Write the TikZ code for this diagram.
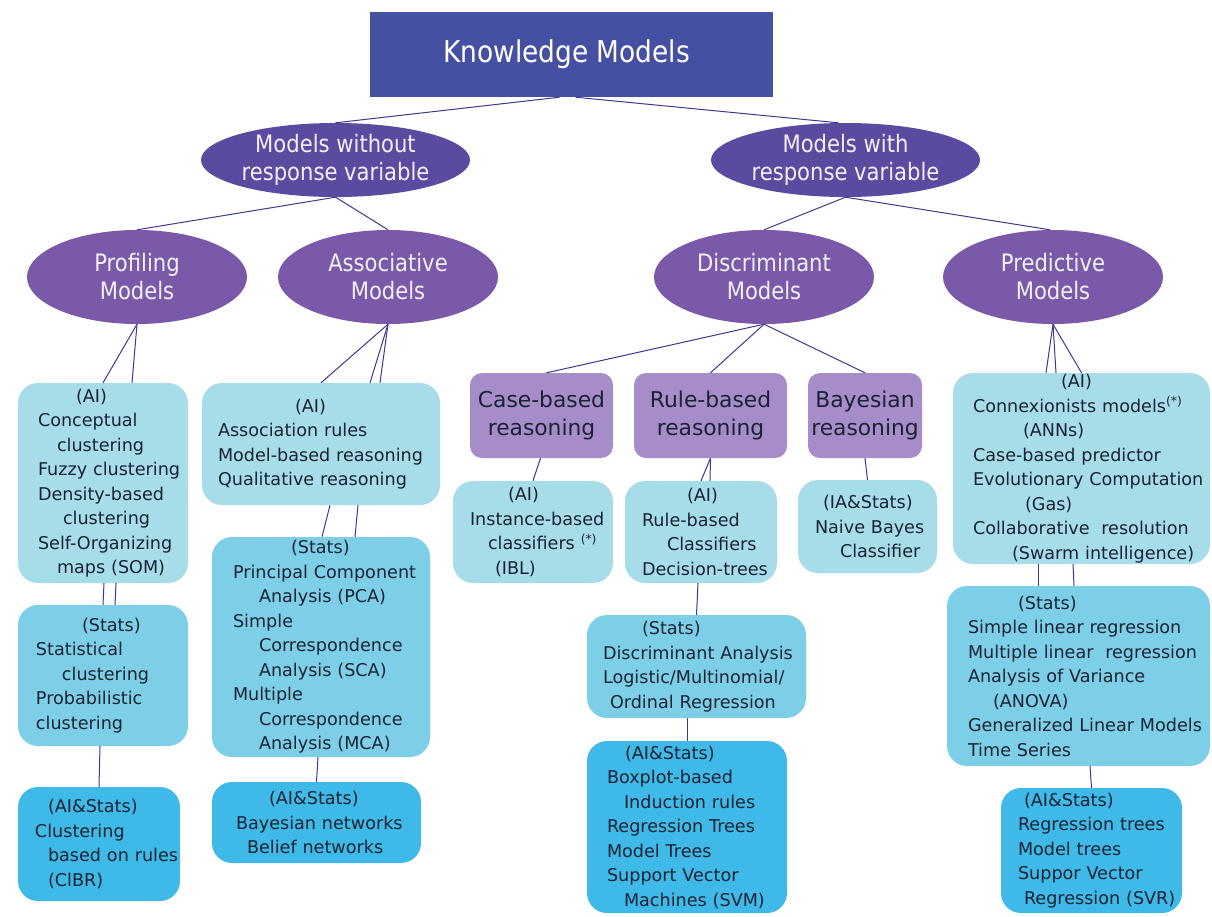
\documentclass[tikz,border=0pt]{standalone}
\usepackage{fontspec}
\setmainfont{DejaVu Sans}
\newfontfamily\condfont[FakeStretch=0.88]{DejaVu Sans}
\usetikzlibrary{shapes.geometric}
\definecolor{titlebg}{HTML}{4650A2}
\definecolor{topell}{HTML}{5A4AA0}
\definecolor{midell}{HTML}{7A5AA8}
\definecolor{reasbg}{HTML}{A68DC9}
\definecolor{aibg}{HTML}{A7DCE9}
\definecolor{statbg}{HTML}{7DCFE7}
\definecolor{aisbg}{HTML}{3FB9E7}
\definecolor{linec}{HTML}{3B3A8E}
\definecolor{boxtext}{HTML}{1A2333}
\definecolor{elltext}{HTML}{F3F1F9}
\newcommand\iline[2]{\hspace*{#1pt}\mbox{#2}}
\begin{document}
\begin{tikzpicture}[x=1pt,y=-1pt,
  titlebox/.style={rectangle, fill=titlebg, draw=none, minimum width=403pt, minimum height=85pt, text=white, font=\condfont\fontsize{30}{34}\selectfont, inner sep=0pt},
  ell/.style={ellipse, draw=none, inner sep=0pt, text=elltext, align=center, font=\condfont\fontsize{24}{28}\selectfont},
  topellipse/.style={ell, fill=topell, minimum width=269pt, minimum height=74pt},
  midellipse/.style={ell, fill=midell, minimum width=220pt, minimum height=94pt},
  reasbox/.style={rectangle, rounded corners=12pt, fill=reasbg, text=boxtext, align=center, font=\fontsize{21.8}{28}\selectfont, minimum height=85pt, inner sep=0pt},
  infobox/.style={rectangle, rounded corners=20pt, text=boxtext, align=left, font=\fontsize{17.6}{24.5}\selectfont, inner sep=0pt},
  sz/.style n args={3}{minimum width=#1pt, minimum height=#2pt, text width=#3pt},
  ai/.style={infobox, fill=aibg},
  stats/.style={infobox, fill=statbg},
  ais/.style={infobox, fill=aisbg},
  conn/.style={draw=linec, line width=1pt},
]
\useasboundingbox[fill=white] (0,0) rectangle (1212,916);

% top levels
\node[titlebox] (title) at (571.5,54.5) {\hspace*{-10pt}Knowledge Models};
\node[topellipse] (wo) at (335.5,160) {Models without\\response variable};
\node[topellipse] (wi) at (845.5,160) {Models with\\response variable};
\node[midellipse] (prof) at (137,277) {Profiling\\Models};
\node[midellipse] (assoc) at (388,277) {Associative\\Models};
\node[midellipse] (disc) at (764,277) {Discriminant\\Models};
\node[midellipse] (pred) at (1053,277) {Predictive\\Models};

% reasoning boxes
\node[reasbox, minimum width=143pt] (case) at (541.5,415.5) {Case-based\\reasoning};
\node[reasbox, minimum width=153pt] (rule) at (710.5,415.5) {Rule-based\\reasoning};
\node[reasbox, minimum width=114pt] (bayes) at (865,415.5) {Bayesian\\reasoning};

% profiling column
\node[ai, sz={170}{200}{168}] (pai) at (103,483) {\iline{57}{(AI)}\\\iline{19}{Conceptual}\\\iline{38}{clustering}\\\iline{19}{Fuzzy clustering}\\\iline{19}{Density-based}\\\iline{44}{clustering}\\\iline{19}{Self-Organizing}\\\iline{38}{maps (SOM)}};
\node[stats, sz={170}{141}{168}] (pstats) at (103,675.5) {\iline{63}{(Stats)}\\\iline{17}{Statistical}\\\iline{43}{clustering}\\\iline{17}{Probabilistic}\\\iline{17}{clustering}};
\node[ais, sz={162}{114}{160}] (pais) at (99,844) {\iline{29}{(AI\&Stats)}\\\iline{16}{Clustering}\\\iline{29}{based on rules}\\\iline{29}{(ClBR)}};

% associative column
\node[ai, sz={238}{122}{236}] (aai) at (321,444) {\iline{92}{(AI)}\\\iline{15}{Association rules}\\\iline{15}{Model-based reasoning}\\\iline{15}{Qualitative reasoning}};
\node[stats, sz={218}{220}{216}] (astats) at (321,647) {\iline{78}{(Stats)}\\\iline{20}{Principal Component}\\\iline{46}{Analysis (PCA)}\\\iline{20}{Simple}\\\iline{46}{Correspondence}\\\iline{46}{Analysis (SCA)}\\\iline{20}{Multiple}\\\iline{46}{Correspondence}\\\iline{46}{Analysis (MCA)}};
\node[ais, sz={209}{81}{207}] (aais) at (316.5,822.5) {\iline{56}{(AI\&Stats)}\\\iline{23}{Bayesian networks}\\\iline{34}{Belief networks}};

% discriminant column
\node[ai, sz={160}{102}{158}] (cai) at (533,532) {\iline{54}{(AI)}\\\iline{16}{Instance-based}\\\iline{34}{classifiers \textsuperscript{(*)}}\\\iline{41}{(IBL)}};
\node[ai, sz={152}{102}{150}] (rai) at (701,532) {\iline{61}{(AI)}\\\iline{16}{Rule-based}\\\iline{41}{Classifiers}\\\iline{16}{Decision-trees}};
\node[ai, sz={139}{93}{137}] (bai) at (867.5,526.5) {\iline{24}{(IA\&Stats)}\\\iline{16}{Naive Bayes}\\\iline{41}{Classifier}};
\node[stats, sz={219}{103}{217}] (dstats) at (696.5,666.5) {\iline{54}{(Stats)}\\\iline{15}{Discriminant Analysis}\\\iline{15}{Logistic/Multinomial/}\\\iline{22}{Ordinal Regression}};
\node[ais, sz={200}{172}{198}] (dais) at (687,827) {\iline{37}{(AI\&Stats)}\\\iline{19}{Boxplot-based}\\\iline{36}{Induction rules}\\\iline{19}{Regression Trees}\\\iline{19}{Model Trees}\\\iline{19}{Support Vector}\\\iline{36}{Machines (SVM)}};

% predictive column
\node[ai, sz={257}{191}{255}] (prai) at (1081.5,468.5) {\iline{107}{(AI)}\\\iline{19}{Connexionists models\textsuperscript{(*)}}\\\iline{69}{(ANNs)}\\\iline{19}{Case-based predictor}\\\iline{19}{Evolutionary Computation}\\\iline{71}{(Gas)}\\\iline{19}{Collaborative\ \ resolution}\\\iline{58}{(Swarm intelligence)}};
\node[stats, sz={263}{180}{261}] (prstats) at (1078.5,676) {\iline{70}{(Stats)}\\\iline{20}{Simple linear regression}\\\iline{20}{Multiple linear\ \ regression}\\\iline{20}{Analysis of Variance}\\\iline{45}{(ANOVA)}\\\iline{20}{Generalized Linear Models}\\\iline{20}{Time Series}};
\node[ais, sz={181}{125}{179}] (prais) at (1091.5,850.5) {\iline{22}{(AI\&Stats)}\\\iline{16}{Regression trees}\\\iline{16}{Model trees}\\\iline{16}{Suppor Vector}\\\iline{22}{Regression (SVR)}};

% connectors
\draw[conn] ([xshift=-12pt]title.south) -- (wo.north);
\draw[conn] ([xshift=4pt]title.south) -- ([xshift=-7pt]wi.north);
\draw[conn] (wo.south) -- (prof.north);
\draw[conn] (wo.south) -- (assoc.north);
\draw[conn] (wi.south) -- (disc.north);
\draw[conn] (wi.south) -- ([xshift=-3pt]pred.north);

\draw[conn] (prof.south) -- (pai.north);
\draw[conn] (prof.south) -- ([xshift=29pt]pai.north);
\draw[conn] ([xshift=1pt]pai.south) -- (pstats.north);
\draw[conn] ([xshift=13pt]pai.south) -- ([xshift=12pt]pstats.north);
\draw[conn] ([xshift=-3pt]pstats.south) -- (pais.north);

\draw[conn] (assoc.south) -- (aai.north);
\draw[conn] (assoc.south) -- ([xshift=49pt]aai.north);
\draw[conn] (assoc.south) -- ([xshift=59pt]aai.north);
\draw[conn] ([xshift=9pt]aai.south) -- ([xshift=1pt]astats.north);
\draw[conn] ([xshift=37pt]aai.south) -- ([xshift=34pt]astats.north);
\draw[conn] ([xshift=-3pt]astats.south) -- (aais.north);

\draw[conn] (disc.south) -- ([xshift=5pt]case.north);
\draw[conn] (disc.south) -- (rule.north);
\draw[conn] (disc.south) -- (bayes.north);
\draw[conn] ([xshift=-1pt]case.south) -- (cai.north);
\draw[conn] (rule.south) -- (rai.north);
\draw[conn] (rule.south) -- ([xshift=9pt]rai.north);
\draw[conn] (bayes.south) -- (bai.north);
\draw[conn] ([xshift=-3pt]rai.south) -- (dstats.north);
\draw[conn] ([xshift=-9.5pt]dstats.south) -- (dais.north);

\draw[conn] (pred.south) -- ([xshift=-35.5pt]prai.north);
\draw[conn] (pred.south) -- ([xshift=-25.5pt]prai.north);
\draw[conn] (pred.south) -- (prai.north);
\draw[conn] ([xshift=-43.5pt]prai.south) -- ([xshift=-40.5pt]prstats.north);
\draw[conn] ([xshift=-8.5pt]prai.south) -- ([xshift=-4.5pt]prstats.north);
\draw[conn] ([xshift=11.5pt]prstats.south) -- (prais.north);
\end{tikzpicture}
\end{document}
